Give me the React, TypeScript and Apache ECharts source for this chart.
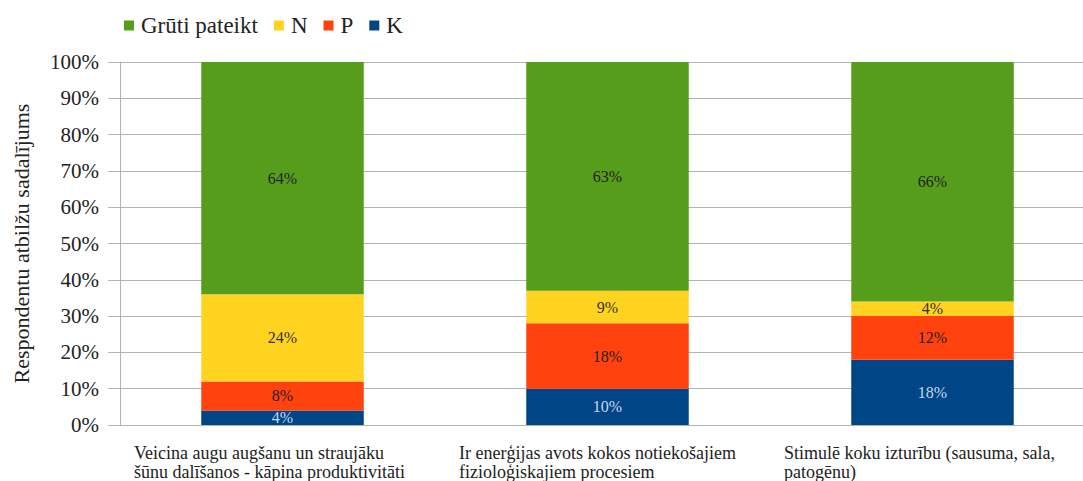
import React, { useEffect, useRef } from "react";
import * as echarts from "echarts";

const categories = [
  "Veicina augu augšanu un straujāku\nšūnu dalīšanos - kāpina produktivitāti",
  "Ir enerģijas avots kokos notiekošajiem\nfizioloģiskajiem procesiem",
  "Stimulē koku izturību (sausuma, sala,\npatogēnu)",
];
const seriesNames = ["K", "P", "N", "Grūti pateikt"];
const legendOrder = ["Grūti pateikt", "N", "P", "K"];
const valuesK = [4, 10, 18];
const valuesP = [8, 18, 12];
const valuesN = [24, 9, 4];
const valuesGruti = [64, 63, 66];
const yTicks = [0, 10, 20, 30, 40, 50, 60, 70, 80, 90, 100];

const colors = ["#004586", "#FF420E", "#FFD320", "#579D1C"];
const labelColors = ["#c8d8ec", "#222", "#333", "#222"];
const FONT = "'Liberation Serif', serif";

export default function App() {
  const ref = useRef<HTMLDivElement>(null);
  useEffect(() => {
    if (!ref.current) return;
    document.body.style.margin = "0";
    document.body.style.overflow = "hidden";
    const chart = echarts.init(ref.current, null, { renderer: "svg" });
    const all = [valuesK, valuesP, valuesN, valuesGruti];
    chart.setOption({
      animation: false,
      textStyle: { fontFamily: FONT },
      legend: {
        data: legendOrder,
        left: 119,
        top: 9,
        itemWidth: 10,
        itemHeight: 10,
        itemGap: 16,
        icon: "rect",
        textStyle: { fontFamily: FONT, fontSize: 23, color: "#222", padding: [0, 0, 0, 2] },
      },
      grid: {
        left: 120,
        width: 975,
        top: 62,
        bottom: 56,
        containLabel: false,
        outerBoundsMode: "none",
      },
      xAxis: [
        {
          type: "category",
          data: categories,
          axisLine: { lineStyle: { color: "#b3b3b3" } },
          axisTick: { length: 12, lineStyle: { color: "#b3b3b3" } },
          axisLabel: { show: false },
        },
        {
          type: "category",
          data: [...categories, ""],
          boundaryGap: false,
          position: "bottom",
          axisLine: { show: false },
          axisTick: { show: false },
          axisLabel: {
            interval: 0,
            align: "left",
            margin: 18,
            padding: [0, 0, 0, 14],
            fontFamily: FONT,
            fontSize: 18,
            lineHeight: 19,
            color: "#222",
          },
        },
      ],
      yAxis: {
        type: "value",
        min: 0,
        max: 100,
        interval: 10,
        name: "Respondentu atbilžu sadalījums",
        nameLocation: "middle",
        nameGap: 88,
        nameTextStyle: { fontFamily: FONT, fontSize: 22, color: "#222" },
        axisLine: { show: true, lineStyle: { color: "#b3b3b3" } },
        axisTick: { show: true, length: 12, lineStyle: { color: "#b3b3b3" } },
        axisLabel: {
          formatter: (v: number) => (yTicks.includes(v) ? v + "%" : ""),
          margin: 21,
          fontFamily: FONT,
          fontSize: 21,
          color: "#222",
        },
        splitLine: { lineStyle: { color: "#b3b3b3" } },
      },
      series: seriesNames.map((name, i) => ({
        name,
        type: "bar",
        stack: "total",
        xAxisIndex: 0,
        barWidth: "50%",
        data: all[i],
        itemStyle: { color: colors[i] },
        label: {
          show: true,
          position: "inside",
          formatter: "{c}%",
          fontFamily: FONT,
          fontSize: 16,
          color: labelColors[i],
        },
      })),
    });
    return () => chart.dispose();
  }, []);
  return <div ref={ref} style={{ width: 1083, height: 481 }} />;
}
